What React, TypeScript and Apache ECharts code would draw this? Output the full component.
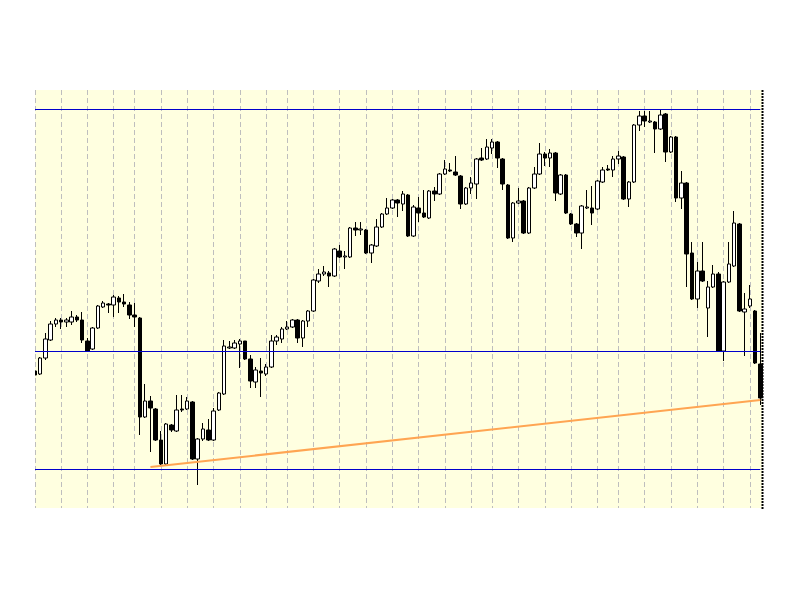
import React, { useEffect, useRef } from "react";
import * as echarts from "echarts";

// OHLC values (arbitrary price units)
const opens = [113.7,113.4,115.0,116.8,118.4,118.8,118.6,118.6,119.1,118.8,116.7,115.9,118.0,120.1,120.4,120.3,121.0,120.6,120.3,119.3,119.0,109.1,110.7,109.9,106.8,104.4,108.3,107.7,109.9,109.9,110.6,104.9,106.9,107.8,106.8,109.8,111.4,116.0,116.0,116.4,116.7,114.9,112.6,113.7,113.4,114.1,116.7,116.9,117.9,118.1,118.8,117.0,118.7,119.7,122.7,123.4,123.5,123.2,125.7,125.1,125.1,128.0,127.8,127.8,125.5,126.2,128.1,129.4,130.0,130.8,130.4,131.3,127.2,130.0,129.5,129.0,131.7,131.4,133.4,133.8,133.6,133.2,130.4,132.0,132.4,135.0,134.9,136.0,136.6,134.9,132.3,127.0,130.5,130.7,127.5,132.0,133.4,135.4,135.0,135.5,131.4,133.3,129.4,128.4,127.5,130.0,130.0,129.9,132.6,133.9,133.8,134.9,135.1,130.9,132.6,138.3,139.2,138.6,138.6,137.9,139.4,135.6,137.1,131.0,132.5,125.5,120.9,123.7,120.0,122.1,123.4,115.7,122.6,124.2,128.4,119.6,120.2,119.7,114.4];
const closes = [113.3,115.0,116.9,118.4,118.8,118.6,118.8,119.1,118.8,116.8,115.7,118.0,120.2,120.5,120.3,121.1,120.6,120.4,119.3,119.1,109.1,110.7,110.0,106.8,104.4,108.4,107.8,109.8,109.8,110.7,104.9,106.9,107.9,106.8,109.7,111.5,116.2,116.1,116.5,116.7,114.9,112.7,113.8,113.5,114.1,116.7,117.1,117.9,118.1,118.8,117.0,118.7,119.7,122.8,123.4,123.6,123.2,125.9,125.1,125.2,128.0,127.8,127.9,125.5,126.3,128.1,129.4,130.0,130.8,130.5,131.4,127.2,130.1,129.5,129.1,131.7,131.4,133.4,133.9,133.7,133.3,130.4,132.0,132.5,134.9,134.8,136.1,136.6,135.0,132.4,127.0,130.5,130.7,127.5,132.0,133.4,135.4,135.0,135.5,131.5,133.3,129.5,128.4,127.5,130.2,130.1,129.5,132.7,133.8,133.8,134.9,135.2,130.9,132.6,138.3,139.2,138.7,138.7,137.9,139.3,135.6,137.1,131.0,132.5,125.4,120.9,123.7,122.7,122.1,123.4,115.7,122.6,124.4,128.5,119.7,119.9,120.9,114.5,111.0];
const lows = [113.0,113.3,114.8,116.7,118.1,117.9,118.1,118.3,118.6,116.5,115.6,115.8,117.9,120.0,119.5,119.1,119.5,120.1,118.9,118.1,107.3,109.0,105.6,106.7,104.3,104.3,107.6,107.6,109.6,109.8,104.8,102.3,106.7,106.7,106.7,109.7,111.3,115.9,115.9,114.0,114.8,112.0,112.0,111.1,113.2,114.0,116.3,116.5,117.8,118.0,116.5,116.1,118.1,119.6,122.5,123.2,122.1,123.1,125.0,123.9,125.0,127.2,127.3,125.4,124.5,126.1,128.0,129.3,129.9,129.1,129.7,127.1,127.1,128.6,129.0,128.9,130.7,131.3,133.3,133.6,133.2,129.9,130.3,131.4,130.9,134.7,134.8,135.4,134.0,131.8,126.9,126.6,130.4,127.4,127.4,131.9,133.3,134.2,134.1,130.7,131.3,129.4,128.3,127.1,125.9,129.9,128.3,129.8,132.5,133.7,133.1,134.4,130.8,130.1,132.5,137.7,138.1,138.5,135.5,137.8,134.6,135.5,130.6,129.9,122.1,120.8,120.0,122.6,117.1,122.0,115.6,114.7,122.5,124.1,119.6,115.2,120.0,114.4,110.3];
const highs = [114.6,115.1,117.5,118.7,119.0,119.0,119.0,119.7,119.3,119.6,117.0,118.1,120.3,120.7,120.5,121.3,121.2,121.4,120.6,120.5,119.1,112.4,111.2,110.0,107.7,108.5,108.4,111.3,111.3,111.1,110.7,107.0,108.5,108.9,110.0,111.6,116.8,116.7,116.8,116.9,116.7,115.3,114.1,115.0,114.4,117.3,117.3,118.1,118.7,118.9,118.9,118.8,119.8,122.9,123.9,124.2,123.7,126.0,126.3,125.7,128.1,128.6,128.6,127.9,126.4,128.9,129.5,131.0,130.9,130.9,131.7,131.4,130.3,131.1,131.8,131.8,132.1,133.5,134.8,134.5,135.2,133.3,132.1,133.1,135.0,136.0,136.9,136.9,136.7,135.0,132.4,130.6,132.0,130.8,132.1,134.1,136.5,135.6,135.9,135.6,133.4,133.4,129.5,128.5,130.3,131.8,132.2,132.8,134.1,134.3,135.2,135.7,135.2,132.7,138.4,139.7,139.7,139.7,138.7,139.8,139.5,137.2,137.2,133.7,132.6,126.6,124.6,126.6,122.7,124.3,123.6,122.7,126.6,129.7,128.5,121.5,122.3,119.8,117.5];

// candle indices where the dashed vertical grid lines fall
const gridIdx = [0,5,10,15,19,24,29,34,39,44,48,53,58,63,68,73,78,83,87,92,97,102,107,111,116,121,126,131,136];

// horizontal level lines (blue)
const levels = [139.9, 115.7, 103.9];

// trend line end points [candle index, price]
const trendStart = [22, 104.1];
const trendEnd = [138, 110.8];

const categories = opens.map((_, i) => `C${i + 1}`);

export default function App() {
  const ref = useRef<HTMLDivElement>(null);
  useEffect(() => {
    if (!ref.current) return;
    const chart = echarts.init(ref.current, undefined, { renderer: "svg" });
    const ohlc = opens.map((o, i) => [o, closes[i], lows[i], highs[i]]);
    const gridSet = new Set(gridIdx);
    chart.setOption({
      animation: false,
      backgroundColor: "#ffffff",
      graphic: [
        {
          type: "rect",
          z: -10,
          silent: true,
          shape: { x: 35, y: 90, width: 727, height: 418 },
          style: { fill: "#FFFFE0" },
        },
        {
          // left margin mask: the chart window clips the first candle at its edge
          type: "rect",
          z: 100,
          silent: true,
          shape: { x: 20, y: 85, width: 15, height: 430 },
          style: { fill: "#FFFFFF" },
        },
        {
          type: "line",
          z: 100,
          silent: true,
          shape: { x1: 762.5, y1: 90, x2: 762.5, y2: 509 },
          style: { stroke: "#000000", lineWidth: 2, lineDash: [2, 1] },
        },
      ],
      grid: { left: 34.75, right: 39.65, top: 90, bottom: 92, containLabel: false },
      xAxis: {
        type: "category",
        data: categories,
        boundaryGap: false,
        axisLine: { show: false },
        axisTick: { show: false },
        axisLabel: { show: false },
        splitLine: {
          show: true,
          interval: (index: number) => gridSet.has(index),
          lineStyle: { color: "#BEBEBE", width: 1, type: [5, 3] },
        },
      },
      yAxis: {
        type: "value",
        min: 100,
        max: 141.8,
        axisLine: { show: false },
        axisTick: { show: false },
        axisLabel: { show: false },
        splitLine: { show: false },
      },
      series: [
        {
          type: "candlestick",
          data: ohlc,
          barWidth: 4,
          clip: false,
          itemStyle: {
            color: "#FFFFFF",
            color0: "#000000",
            borderColor: "#000000",
            borderColor0: "#000000",
            borderWidth: 1,
          },
          markLine: {
            silent: true,
            symbol: ["none", "none"],
            label: { show: false },
            animation: false,
            data: [
              ...levels.map((v) => ({
                yAxis: v,
                lineStyle: { color: "#0000CC", width: 1, type: "solid" },
              })),
              [
                {
                  coord: [categories[trendStart[0]], trendStart[1]],
                  lineStyle: { color: "#FFA552", width: 2, type: "solid" },
                },
                { coord: [categories[trendEnd[0]], trendEnd[1]] },
              ],
            ],
          },
        },
      ],
    });
    return () => chart.dispose();
  }, []);
  return (
    <div
      ref={ref}
      style={{ position: "fixed", left: 0, top: 0, width: 800, height: 600 }}
    />
  );
}
